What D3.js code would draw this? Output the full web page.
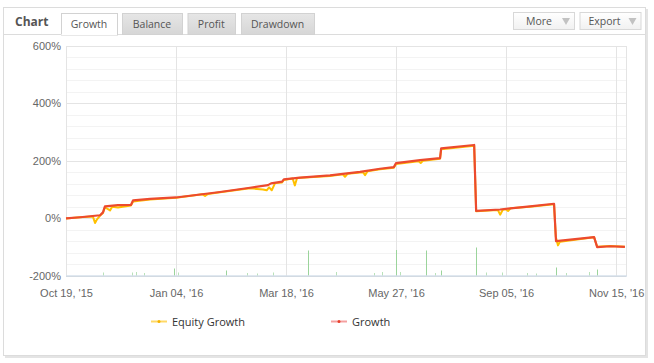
<!DOCTYPE html>
<html lang="en">
<head>
  <meta charset="UTF-8">
  <title>Chart</title>
  <style>
    body { margin: 0; background: #fff; }
    svg { display: block; }
    .tick text { fill: #666; font-family: "Liberation Sans", Arial, sans-serif; font-size: 11px; }
    .ui { font-family: "Open Sans", sans-serif; font-size: 11px; fill: #555; }
    .tab { font-size: 10.5px; }
  </style>
</head>
<body>
  <div class="container"></div>
  <script src="https://d3js.org/d3.v7.min.js"></script>
  <script>
    // x is the point index (ordinal axis, weekends skipped), y is percent growth
    const tabs = ['Growth', 'Balance', 'Profit', 'Drawdown']
    const xTickIdx = [0, 50, 100, 150, 200, 250]
    const xTickLabels = ["Oct 19, '15", "Jan 04, '16", "Mar 18, '16", "May 27, '16", "Sep 05, '16", "Nov 15, '16"]
    const yTicks = [-200, 0, 200, 400, 600]

    const growthIdx = [0, 6.4, 15.5, 16.8, 17.7, 23.6, 29.5, 30.5, 38.2, 50, 70, 83.6, 91.8, 93.2, 98.2, 99, 106.4, 120, 133.6, 142.7, 149, 150, 160.9, 170, 170.5, 185.5, 186.4, 197.3, 210.9, 221.8, 222.7, 240, 241.4, 247.3, 254]
    const growthVal = [-1, 3, 10, 20, 41, 45, 46, 62, 67, 72, 91, 106, 115, 121, 127, 135, 141, 149, 161, 172, 178, 192, 202, 209, 243, 255, 25, 30, 41, 50, -80, -66, -101, -98, -100]

    const equityIdx = [0, 6.4, 12.2, 13.2, 14.1, 15.5, 16.8, 17.7, 20, 21, 23.6, 29.5, 30.5, 38.2, 50, 62, 63.2, 64.5, 70, 83.6, 89.5, 91.2, 92.3, 93.5, 95, 98.2, 99, 103, 104, 105, 120, 125.8, 126.8, 128, 133.6, 135, 135.9, 137, 142.7, 149, 150, 160.2, 161.2, 162.2, 170, 170.5, 185.5, 186.4, 196.3, 197.3, 198.5, 199.8, 200.9, 202, 210.9, 221.8, 222.6, 223.6, 224.5, 240, 241.4, 247.3, 254]
    const equityVal = [-1, 3, 6, -17, -4, 9, 18, 38, 27, 40, 37, 44, 58, 65, 71, 83, 77, 84, 90, 104, 100, 97, 107, 97, 122, 124, 133, 138, 114, 140, 147, 153, 144, 155, 159, 160, 150, 163, 170, 176, 189, 198, 192, 200, 207, 240, 252, 24, 28, 12, 29, 31, 25, 34, 40, 48, -66, -95, -82, -67, -100, -97, -100]

    const barIdx = [16.8, 30.1, 31.8, 35.5, 49.3, 50.8, 72.5, 82.4, 86.8, 94, 110.1, 122.9, 139.9, 143.6, 150, 151.6, 163.8, 167.8, 170.4, 186.4, 190.9, 198.3, 209.6, 213.4, 222.5, 227.1, 237.5, 241.2]
    const barVal = [3, 3, 3.5, 2.5, 7, 3, 5, 2.5, 2, 3, 25, 3.5, 2.5, 3.5, 25.5, 3.5, 25, 2.5, 5, 28, 3, 3, 2.5, 2, 8, 2.5, 3.5, 6]

    const W = 654, H = 363
    const pL = 66, pR = 626, pT = 46, pB = 275.5

    const svg = d3.select('.container').append('svg')
      .attr('width', W).attr('height', H)

    // frame with shadow
    svg.append('rect').attr('x', 5).attr('y', 9).attr('width', 643).attr('height', 349).attr('fill', '#e4e4e4')
    svg.append('rect').attr('x', 3.5).attr('y', 7.5).attr('width', 642).attr('height', 348)
      .attr('fill', '#fff').attr('stroke', '#dcdcdc')

    // header
    const defs = svg.append('defs')
    const g1 = defs.append('linearGradient').attr('id', 'tabg').attr('x1', 0).attr('y1', 0).attr('x2', 0).attr('y2', 1)
    g1.append('stop').attr('offset', 0).attr('stop-color', '#e6e6e6')
    g1.append('stop').attr('offset', 1).attr('stop-color', '#d6d6d6')
    const g2 = defs.append('linearGradient').attr('id', 'btng').attr('x1', 0).attr('y1', 0).attr('x2', 0).attr('y2', 1)
    g2.append('stop').attr('offset', 0).attr('stop-color', '#ffffff')
    g2.append('stop').attr('offset', 1).attr('stop-color', '#f1f1f1')

    svg.append('line').attr('x1', 4).attr('x2', 645).attr('y1', 34.5).attr('y2', 34.5).attr('stroke', '#dcdcdc')
    svg.append('text').attr('class', 'ui').attr('x', 15).attr('y', 26)
      .style('font-weight', 'bold').style('font-size', '12px').text('Chart')

    const tabX = [61, 122, 187.5, 241], tabW = [56, 60, 47.5, 73]
    tabs.forEach((t, i) => {
      svg.append('rect').attr('x', tabX[i] + 0.5).attr('y', 13.5).attr('width', tabW[i]).attr('height', i == 0 ? 21.5 : 21)
        .attr('fill', i == 0 ? '#fff' : 'url(#tabg)').attr('stroke', '#d2d2d2')
      svg.append('text').attr('class', 'ui tab').attr('x', tabX[i] + tabW[i] / 2).attr('y', 28)
        .attr('text-anchor', 'middle').style('fill', '#555').text(t)
    })
    svg.append('line').attr('x1', 61.5).attr('x2', 117).attr('y1', 34.5).attr('y2', 34.5).attr('stroke', '#fff')

    const btns = [['More', 513], ['Export', 579.5]]
    btns.forEach(b => {
      svg.append('rect').attr('x', b[1] + 0.5).attr('y', 12.5).attr('width', 61).attr('height', 17)
        .attr('fill', 'url(#btng)').attr('stroke', '#d8d8d8')
      svg.append('text').attr('class', 'ui tab').attr('x', b[1] + (b[0] == 'More' ? 13 : 9)).attr('y', 25).text(b[0])
      const ax = b[1] + 49
      svg.append('path').attr('d', `M${ax},18 L${ax + 8},18 L${ax + 4},25 Z`).attr('fill', '#c2c2c2')
    })

    const x = d3.scaleLinear().domain([0, 254.5]).range([pL, pR])
    const y = d3.scaleLinear().domain([-200, 600]).range([pB, pT])
    const yb = d3.scaleLinear().domain([0, 30]).range([pB, pB - 30])

    const plot = svg.append('g')

    // horizontal grid, minor every 40%
    plot.selectAll('.hgrid').data(d3.range(-200, 601, 40)).enter().append('line')
      .attr('x1', pL).attr('x2', pR)
      .attr('y1', d => Math.round(y(d)) + 0.5).attr('y2', d => Math.round(y(d)) + 0.5)
      .attr('stroke', d => d % 200 == 0 ? '#e4e4e4' : '#f3f3f3')

    // vertical grid
    plot.selectAll('.vgrid').data(xTickIdx).enter().append('line')
      .attr('x1', d => Math.round(x(d)) + 0.5).attr('x2', d => Math.round(x(d)) + 0.5)
      .attr('y1', pT).attr('y2', pB)
      .attr('stroke', '#e4e4e4')
    plot.append('line').attr('x1', pR + 0.5).attr('x2', pR + 0.5).attr('y1', pT).attr('y2', pB).attr('stroke', '#e4e4e4')

    // axes
    const yAxis = d3.axisLeft(y).tickValues(yTicks).tickSize(0).tickPadding(5).tickFormat(d => d + '%')
    svg.append('g').attr('transform', `translate(${pL}, 0)`).call(yAxis)
      .call(g => g.select('.domain').remove())

    const xAxis = d3.axisBottom(x).tickValues(xTickIdx).tickSize(0).tickPadding(14)
      .tickFormat((d, i) => xTickLabels[i])
    svg.append('g').attr('transform', `translate(0, ${pB})`).call(xAxis)
      .call(g => g.select('.domain').remove())

    // deposit bars
    plot.selectAll('.bar').data(barIdx).enter().append('rect')
      .attr('x', d => Math.round(x(d)))
      .attr('y', (d, i) => yb(barVal[i]))
      .attr('width', 1)
      .attr('height', (d, i) => pB - yb(barVal[i]))
      .attr('fill', (d, i) => barVal[i] > 4 ? '#9bd49b' : '#b9e2b9')

    plot.append('line').attr('x1', pL).attr('x2', pR + 1).attr('y1', pB + 0.5).attr('y2', pB + 0.5)
      .attr('stroke', '#c0d0e0')

    const line = d3.line().x(d => x(d[0])).y(d => y(d[1]))
    const equity = equityIdx.map((d, i) => [d, equityVal[i]])
    const growth = growthIdx.map((d, i) => [d, growthVal[i]])

    plot.append('path').attr('d', line(equity)).attr('fill', 'none')
      .attr('stroke', '#ffc000').attr('stroke-width', 2).attr('stroke-linejoin', 'round')
    plot.append('path').attr('d', line(growth)).attr('fill', 'none')
      .attr('stroke', '#ec4a2e').attr('stroke-width', 2.2).attr('stroke-linejoin', 'round')

    // legend
    const leg = [['Equity Growth', 151, '#ffd966', '#f6b400'], ['Growth', 331, '#f4a0a0', '#e8412c']]
    leg.forEach(l => {
      svg.append('line').attr('x1', l[1]).attr('x2', l[1] + 16).attr('y1', 321.5).attr('y2', 321.5)
        .attr('stroke', l[2]).attr('stroke-width', 2)
      svg.append('circle').attr('cx', l[1] + 8).attr('cy', 321.5).attr('r', 1.5).attr('fill', l[3])
      svg.append('text').attr('class', 'ui').attr('x', l[1] + 21).attr('y', 325.5)
        .style('fill', '#333').text(l[0])
    })
  </script>
</body>
</html>
